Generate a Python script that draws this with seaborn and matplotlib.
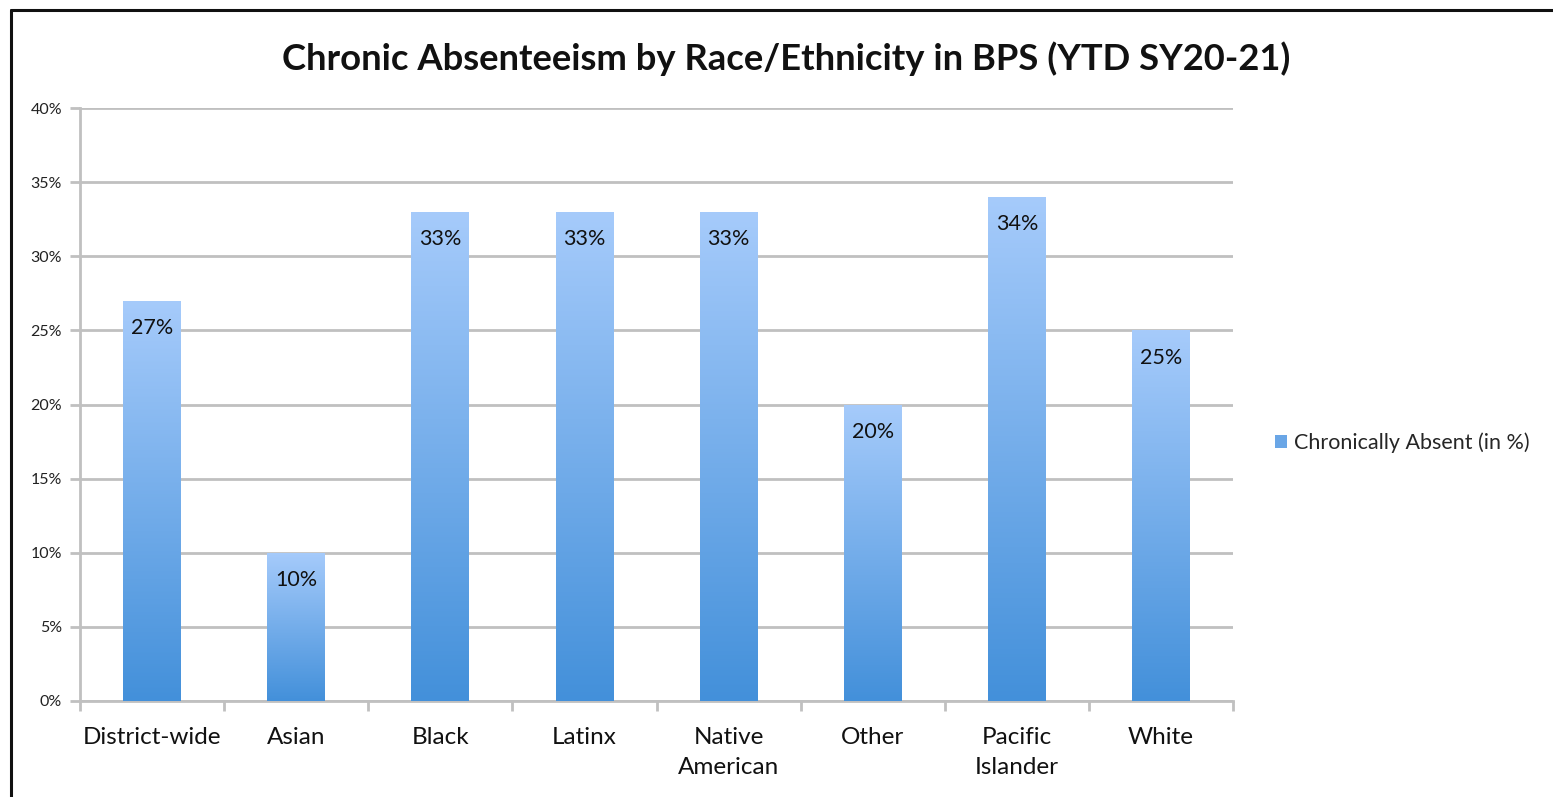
import numpy as np
import pandas as pd
import matplotlib
matplotlib.use("Agg")
import matplotlib.pyplot as plt
import seaborn as sns
from matplotlib.colors import LinearSegmentedColormap
from matplotlib.lines import Line2D
from matplotlib.ticker import FixedLocator, FuncFormatter

categories = ["District-wide", "Asian", "Black", "Latinx", "Native\nAmerican",
              "Other", "Pacific\nIslander", "White"]
values = [27, 10, 33, 33, 33, 20, 34, 25]
series_name = "Chronically Absent (in %)"
title = "Chronic Absenteeism by Race/Ethnicity in BPS (YTD SY20-21)"
y_ticks = [0, 5, 10, 15, 20, 25, 30, 35, 40]

sns.set_theme(style="white")
plt.rcParams["font.family"] = ["Lato", "DejaVu Sans"]

df = pd.DataFrame({"cat": categories, "val": values})

fig = plt.figure(figsize=(15.53, 7.97), dpi=100)
ax = fig.add_axes([80 / 1553, 1 - 701 / 797, (1233 - 80) / 1553, (701 - 108) / 797])

sns.barplot(data=df, x="cat", y="val", ax=ax, width=0.4, color="#6aa6e6",
            saturation=1, label=series_name, zorder=3)

top_c = "#a6cbfb"
bot_c = "#4390da"
cmap = LinearSegmentedColormap.from_list("g", [bot_c, top_c])
grad = np.linspace(0, 1, 256).reshape(-1, 1)
for p in ax.patches:
    x0, y0 = p.get_x(), p.get_y()
    w, h = p.get_width(), p.get_height()
    im = ax.imshow(grad, cmap=cmap, aspect="auto", origin="lower",
                   extent=[x0, x0 + w, y0, y0 + h], zorder=3)
    im.set_clip_path(p)
    p.set_facecolor("none")
    p.set_edgecolor("none")
    ax.text(x0 + w / 2, y0 + h - 1.85, f"{int(round(h))}%", ha="center", va="center",
            fontsize=15.5, color="#111111", zorder=5)

ax.set_xlim(-0.5, len(categories) - 0.5)
ax.set_ylim(0, 40)
ax.yaxis.set_major_locator(FixedLocator(y_ticks))
ax.yaxis.set_major_formatter(FuncFormatter(lambda v, _: f"{int(v)}%"))
ax.grid(axis="y", color="#c0c0c0", linewidth=2, zorder=0)
ax.set_axisbelow(True)
ax.set_xlabel("")
ax.set_ylabel("")

for s in ["top", "right"]:
    ax.spines[s].set_visible(False)
for s in ["left", "bottom"]:
    ax.spines[s].set_color("#c0c0c0")
    ax.spines[s].set_linewidth(2)

ax.tick_params(axis="y", length=7, width=2, color="#c0c0c0", labelsize=11.5,
               labelcolor="#222222", pad=6, left=True)
ax.tick_params(axis="x", which="major", length=0, labelsize=17.5,
               labelcolor="#111111", pad=19)
for lbl in ax.get_xticklabels():
    lbl.set_linespacing(1.5)
ax.set_xticks(np.arange(-0.5, len(categories), 1.0), minor=True)
ax.tick_params(axis="x", which="minor", length=7, width=2, color="#c0c0c0", bottom=True)

leg = ax.legend(loc="center left", bbox_to_anchor=(1.02, 0.435), frameon=False,
                fontsize=15.5, handlelength=0.55, handleheight=0.55, handletextpad=0.3)
for h in leg.legend_handles:
    h.set_facecolor("#6aa6e6")

fig.text(0.506, 0.926, title, ha="center", va="center", fontsize=26.2,
         fontweight="bold", color="#111111")

fig.add_artist(Line2D([11 / 1553, 11 / 1553], [0, 1 - 10 / 797], color="#111111",
                      linewidth=2.2, transform=fig.transFigure))
fig.add_artist(Line2D([11 / 1553, 1], [1 - 10 / 797, 1 - 10 / 797], color="#111111",
                      linewidth=2.2, transform=fig.transFigure))

fig.savefig("out.png", dpi=100, facecolor="white")
